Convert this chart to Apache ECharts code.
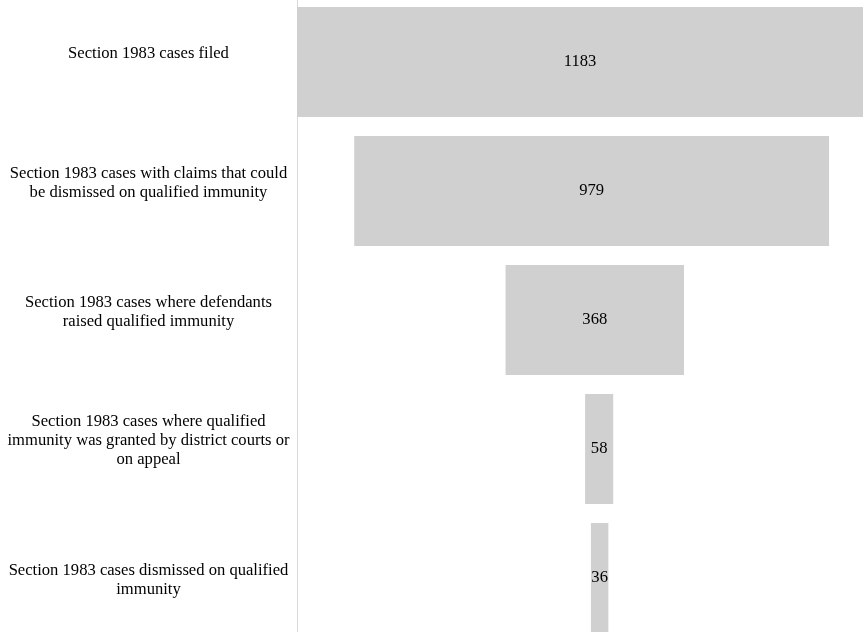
<!DOCTYPE html>
<html>
<head>
<meta charset="utf-8">
<script src="https://cdn.jsdelivr.net/npm/echarts@6/dist/echarts.min.js"></script>
<style>html,body{margin:0;padding:0;background:#fff}#c{width:863px;height:632px}</style>
</head>
<body>
<div id="c"></div>
<script>
// Funnel stages (top to bottom)
var categories = [
  'Section 1983 cases filed',
  'Section 1983 cases with claims that could\nbe dismissed on qualified immunity',
  'Section 1983 cases where defendants\nraised qualified immunity',
  'Section 1983 cases where qualified\nimmunity was granted by district courts or\non appeal',
  'Section 1983 cases dismissed on qualified\nimmunity'
];
// Case counts
var counts = [1183, 979, 368, 58, 36];
// Invisible leading offset of each bar (in count units)
var offsets = [0, 118, 430, 594, 606];

var font = '"Liberation Serif", "Times New Roman", serif';
var chart = echarts.init(document.getElementById('c'), null, {renderer: 'canvas'});
chart.setOption({
  animation: false,
  backgroundColor: '#ffffff',
  grid: {left: 297, right: 0, top: -2.5, bottom: -10.5, containLabel: false, outerBoundsMode: 'none'},
  xAxis: {
    type: 'value', min: 0, max: 1167,
    show: false
  },
  yAxis: {
    type: 'category',
    inverse: true,
    data: categories,
    axisLine: {show: true, lineStyle: {color: '#d9d9d9', width: 1}},
    axisTick: {show: false},
    splitLine: {show: false},
    axisLabel: {
      align: 'center',
      margin: 148.5,
      fontFamily: font,
      fontSize: 16.6,
      lineHeight: 19,
      color: '#000',
      formatter: function (v, i) {
        var body = v.split('\n').map(function (l) { return '{t|' + l + '}'; }).join('\n');
        return i === 4 ? '{sp|}\n' + body : body + '\n{s|}';
      },
      rich: {
        t: {fontFamily: font, fontSize: 16.6, lineHeight: 19, color: '#000', align: 'center'},
        s: {fontSize: 1, lineHeight: 16, align: 'center'},
        sp: {fontSize: 1, lineHeight: 5, align: 'center'}
      }
    }
  },
  series: [
    {
      type: 'bar', stack: 'f', data: offsets,
      itemStyle: {color: 'rgba(0,0,0,0)'},
      barCategoryGap: '14.7%',
      silent: true
    },
    {
      type: 'bar', stack: 'f', data: counts,
      itemStyle: {color: '#d0d0d0'},
      barCategoryGap: '14.7%',
      clip: true,
      label: {
        show: true, position: 'inside',
        fontFamily: font, fontSize: 16.6, color: '#000'
      }
    }
  ]
});
</script>
</body>
</html>
